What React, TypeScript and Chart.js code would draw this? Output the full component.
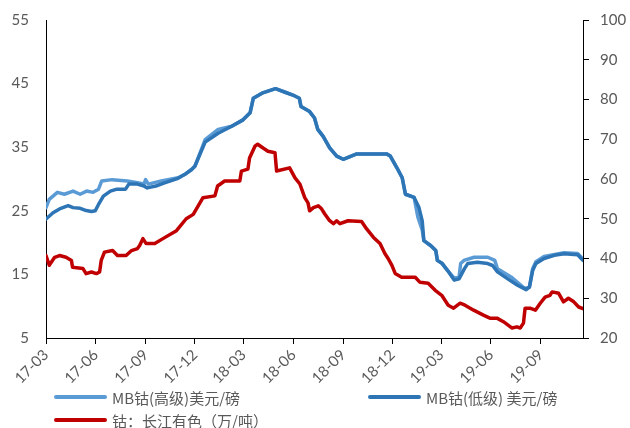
import React, { useEffect, useRef } from "react";
import { Chart, registerables } from "chart.js";

Chart.register(...registerables);

// Quarter ticks on the date axis
const xTickLabels = ["17-03", "17-06", "17-09", "17-12", "18-03", "18-06", "18-09", "18-12", "19-03", "19-06", "19-09"];
const xStart = "2017-03-01";
const xEnd = "2019-11-18";

// MB cobalt, high grade (USD/lb)
const highDates = [
  "2017-03-01", "2017-03-07", "2017-03-22", "2017-04-04", "2017-04-20", "2017-05-03", "2017-05-15", "2017-05-27",
  "2017-06-06", "2017-06-12", "2017-07-01", "2017-07-29", "2017-08-17", "2017-08-29", "2017-09-01", "2017-09-06",
  "2017-09-30", "2017-10-31", "2017-11-12", "2017-11-25", "2017-12-01", "2017-12-20", "2018-01-13", "2018-02-07",
  "2018-02-28", "2018-03-13", "2018-03-19", "2018-04-04", "2018-04-29", "2018-05-18", "2018-05-31", "2018-06-12",
  "2018-06-15", "2018-07-01", "2018-07-10", "2018-07-16", "2018-07-26", "2018-08-07", "2018-08-20", "2018-09-01",
  "2018-09-26", "2018-11-20", "2018-11-27", "2018-12-09", "2018-12-19", "2018-12-25", "2019-01-10", "2019-01-17",
  "2019-01-25", "2019-01-28", "2019-02-10", "2019-02-19", "2019-02-22", "2019-03-03", "2019-03-13", "2019-03-25",
  "2019-04-03", "2019-04-06", "2019-04-12", "2019-05-01", "2019-05-26", "2019-06-08", "2019-06-13", "2019-07-08",
  "2019-08-02", "2019-08-11", "2019-08-17", "2019-08-23", "2019-09-07", "2019-10-14", "2019-11-08", "2019-11-18",
];
const highValues = [
  25.5, 26.8, 27.9, 27.6, 28.1, 27.6, 28.1, 27.9,
  28.4, 29.7, 29.9, 29.7, 29.4, 29.2, 29.9, 29.2,
  29.7, 30.2, 30.7, 31.5, 32.0, 36.2, 37.8, 38.3,
  39.3, 40.4, 42.7, 43.5, 44.2, 43.6, 43.2, 42.7,
  41.4, 40.6, 39.6, 37.8, 36.7, 34.9, 33.6, 33.1,
  33.95, 33.95, 33.6, 31.8, 30.2, 27.6, 27.1, 24.0,
  22.0, 20.3, 19.5, 18.75, 17.2, 16.7, 15.6, 14.4,
  14.6, 16.7, 17.2, 17.7, 17.7, 17.2, 15.9, 14.6,
  12.8, 13.0, 15.9, 17.0, 17.8, 18.4, 18.3, 17.4,
];

// MB cobalt, low grade (USD/lb)
const lowDates = [
  "2017-03-01", "2017-03-14", "2017-03-26", "2017-04-11", "2017-04-20", "2017-05-03", "2017-05-12", "2017-05-24",
  "2017-05-31", "2017-06-06", "2017-06-15", "2017-06-28", "2017-07-10", "2017-07-26", "2017-08-01", "2017-08-17",
  "2017-08-29", "2017-09-04", "2017-09-20", "2017-10-06", "2017-10-31", "2017-11-12", "2017-11-25", "2017-12-01",
  "2017-12-20", "2018-01-13", "2018-02-07", "2018-02-28", "2018-03-13", "2018-03-19", "2018-04-04", "2018-04-29",
  "2018-05-18", "2018-05-31", "2018-06-12", "2018-06-15", "2018-07-01", "2018-07-10", "2018-07-16", "2018-07-26",
  "2018-08-07", "2018-08-20", "2018-09-01", "2018-09-26", "2018-11-20", "2018-11-27", "2018-12-09", "2018-12-19",
  "2018-12-25", "2019-01-10", "2019-01-19", "2019-01-25", "2019-01-28", "2019-02-10", "2019-02-19", "2019-02-22",
  "2019-03-03", "2019-03-13", "2019-03-25", "2019-04-03", "2019-04-13", "2019-04-19", "2019-05-07", "2019-05-26",
  "2019-06-04", "2019-06-13", "2019-07-02", "2019-07-20", "2019-08-05", "2019-08-11", "2019-08-17", "2019-08-23",
  "2019-09-07", "2019-09-26", "2019-10-14", "2019-11-08", "2019-11-18",
];
const lowValues = [
  23.7, 24.7, 25.3, 25.8, 25.5, 25.4, 25.1, 24.9,
  25.0, 26.0, 27.3, 28.1, 28.4, 28.4, 29.2, 29.2,
  28.9, 28.6, 28.9, 29.4, 30.1, 30.7, 31.5, 32.0,
  35.8, 37.2, 38.3, 39.3, 40.4, 42.7, 43.5, 44.2,
  43.6, 43.2, 42.7, 41.4, 40.6, 39.6, 37.8, 36.7,
  34.9, 33.6, 33.1, 33.95, 33.95, 33.6, 31.8, 30.2,
  27.6, 27.1, 25.5, 23.4, 20.3, 19.5, 18.75, 17.2,
  16.7, 15.6, 14.1, 14.3, 15.9, 16.7, 16.9, 16.7,
  16.4, 15.4, 14.3, 13.3, 12.6, 13.0, 15.6, 16.7,
  17.5, 18.0, 18.25, 18.1, 17.2,
];

// Changjiang cobalt (10k CNY/t)
const cjDates = [
  "2017-03-01", "2017-03-07", "2017-03-17", "2017-03-26", "2017-04-07", "2017-04-17", "2017-04-19", "2017-05-08",
  "2017-05-14", "2017-05-24", "2017-06-02", "2017-06-08", "2017-06-11", "2017-06-17", "2017-07-02", "2017-07-11",
  "2017-07-27", "2017-08-06", "2017-08-17", "2017-08-21", "2017-08-27", "2017-09-02", "2017-09-18", "2017-10-03",
  "2017-10-28", "2017-11-15", "2017-11-28", "2017-12-16", "2018-01-07", "2018-01-12", "2018-01-25", "2018-02-22",
  "2018-02-25", "2018-03-09", "2018-03-12", "2018-03-22", "2018-03-27", "2018-04-06", "2018-04-15", "2018-04-28",
  "2018-05-01", "2018-05-25", "2018-06-04", "2018-06-13", "2018-06-22", "2018-06-28", "2018-07-01", "2018-07-08",
  "2018-07-17", "2018-07-23", "2018-07-29", "2018-08-07", "2018-08-14", "2018-08-20", "2018-08-26", "2018-09-10",
  "2018-10-05", "2018-10-14", "2018-10-27", "2018-11-08", "2018-11-17", "2018-11-23", "2018-11-30", "2018-12-06",
  "2018-12-18", "2019-01-12", "2019-01-21", "2019-02-05", "2019-02-18", "2019-03-02", "2019-03-14", "2019-03-24",
  "2019-04-05", "2019-04-14", "2019-04-30", "2019-05-18", "2019-05-30", "2019-06-12", "2019-06-24", "2019-07-10",
  "2019-07-19", "2019-07-25", "2019-07-31", "2019-08-03", "2019-08-12", "2019-08-22", "2019-08-31", "2019-09-09",
  "2019-09-18", "2019-09-22", "2019-10-04", "2019-10-13", "2019-10-22", "2019-11-01", "2019-11-10", "2019-11-18",
];
const cjValues = [
  40.75, 38.3, 40.3, 40.75, 40.3, 39.5, 37.8, 37.5,
  36.2, 36.6, 36.2, 36.6, 39.5, 41.6, 42.0, 40.75,
  40.75, 42.0, 42.5, 43.25, 45.0, 43.75, 43.75, 45.0,
  47.0, 50.0, 51.1, 55.3, 55.75, 58.25, 59.5, 59.5,
  62.0, 62.5, 65.3, 68.25, 68.75, 67.8, 67.0, 66.6,
  62.0, 62.8, 60.3, 58.75, 55.3, 54.0, 52.0, 52.8,
  53.25, 52.5, 51.2, 49.5, 48.75, 49.5, 48.75, 49.5,
  49.3, 47.5, 45.3, 43.75, 41.25, 40.0, 38.25, 36.25,
  35.3, 35.3, 34.0, 33.75, 32.0, 30.75, 28.25, 27.5,
  28.75, 28.25, 27.0, 25.75, 25.0, 25.0, 24.1, 22.5,
  22.8, 22.5, 23.75, 27.5, 27.5, 27.0, 28.75, 30.3,
  30.75, 31.6, 31.25, 29.1, 30.0, 29.1, 27.8, 27.4,
];

const seriesNames = ["MB钴(高级)美元/磅", "MB钴(低级) 美元/磅", "钴：长江有色（万/吨）"];
const seriesColors = ["#5B9BD5", "#2E75B6", "#C00000"];

const START = Date.UTC(2017, 2, 1);
const dayOf = (s: string) => {
  const [y, m, d] = s.split("-").map(Number);
  return (Date.UTC(y, m - 1, d) - START) / 86400000;
};
const xTickValues = xTickLabels.map((l) => dayOf(`20${l}-01`));
const toPoints = (dates: string[], values: number[]) => dates.map((d, i) => ({ x: dayOf(d), y: values[i] }));

const TEXT = "#595959";
const tickFont = { family: "Lato, 'Noto Sans', sans-serif", size: 15 };

export default function App() {
  const canvasRef = useRef<HTMLCanvasElement | null>(null);

  useEffect(() => {
    const canvas = canvasRef.current;
    if (!canvas) return;
    const chart = new Chart(canvas, {
      type: "line",
      data: {
        datasets: [
          { label: seriesNames[0], data: toPoints(highDates, highValues), borderColor: seriesColors[0], yAxisID: "y", order: 3 },
          { label: seriesNames[1], data: toPoints(lowDates, lowValues), borderColor: seriesColors[1], yAxisID: "y", order: 2 },
          { label: seriesNames[2], data: toPoints(cjDates, cjValues), borderColor: seriesColors[2], yAxisID: "y1", order: 1 },
        ].map((d) => ({
          ...d,
          borderWidth: 3.5,
          borderJoinStyle: "round",
          borderCapStyle: "round",
          pointRadius: 0,
          tension: 0,
          fill: false,
        })),
      },
      options: {
        animation: false,
        responsive: false,
        parsing: false,
        layout: { padding: { top: 18, bottom: 0, left: 0, right: 0 } },
        plugins: { legend: { display: false }, tooltip: { enabled: false } },
        scales: {
          x: {
            type: "linear",
            min: dayOf(xStart),
            max: dayOf(xEnd),
            afterBuildTicks: (scale: any) => {
              scale.ticks = xTickValues.map((v) => ({ value: v }));
            },
            afterFit: (scale: any) => {
              scale.height = 90;
            },
            ticks: {
              autoSkip: false,
              minRotation: 45,
              maxRotation: 45,
              padding: 2,
              color: TEXT,
              font: tickFont,
              callback: (_v: any, i: number) => xTickLabels[i],
            },
            grid: { drawOnChartArea: false, drawTicks: true, tickLength: 6, tickColor: "#000", lineWidth: 1 },
            border: { display: true, color: "#000", width: 1 },
          },
          y: {
            position: "left",
            min: 5,
            max: 55,
            afterBuildTicks: (scale: any) => {
              scale.ticks = [5, 15, 25, 35, 45, 55].map((v) => ({ value: v }));
            },
            afterFit: (scale: any) => {
              scale.width = 46;
            },
            ticks: { color: TEXT, font: tickFont, padding: 5 },
            grid: { display: false, drawTicks: true, tickLength: 12 },
            border: { display: true, color: "#000", width: 1 },
          },
          y1: {
            position: "right",
            min: 20,
            max: 100,
            afterFit: (scale: any) => {
              scale.width = 47;
            },
            ticks: { stepSize: 10, color: TEXT, font: tickFont, padding: 11 },
            grid: { drawOnChartArea: false, drawTicks: true, tickLength: 6, tickColor: "#000", lineWidth: 1 },
            border: { display: true, color: "#000", width: 1 },
          },
        },
      } as any,
    });
    return () => chart.destroy();
  }, []);

  const legendItem = (i: number, left: number, top: number) => (
    <div
      key={i}
      style={{ position: "absolute", left, top, height: 22, display: "flex", alignItems: "center", whiteSpace: "nowrap" }}
    >
      <span style={{ display: "inline-block", width: 53, height: 4, borderRadius: 2, background: seriesColors[i], marginRight: 5 }} />
      <span style={{ color: TEXT, fontSize: 15, fontFamily: "'Noto Sans CJK SC', sans-serif" }}>{seriesNames[i]}</span>
    </div>
  );

  return (
    <div style={{ position: "fixed", left: 0, top: 0, width: 630, height: 428, background: "#fff" }}>
      <canvas ref={canvasRef} width={630} height={428} style={{ display: "block" }} />
      {legendItem(0, 54, 386)}
      {legendItem(1, 368, 386)}
      {legendItem(2, 54, 409)}
    </div>
  );
}
